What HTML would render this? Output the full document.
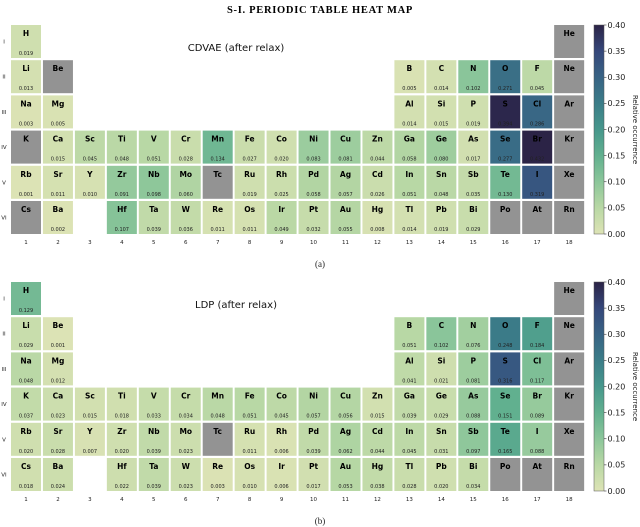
<!DOCTYPE html>
<html><head><meta charset="utf-8">
<style>
html,body{margin:0;padding:0;background:#fff;}
svg{display:block;}
text{font-family:"DejaVu Sans","Liberation Sans",sans-serif;}
</style></head>
<body>
<svg id="chart" width="640" height="527" viewBox="0 0 640 527" xmlns="http://www.w3.org/2000/svg">
<text x="320" y="13" text-anchor="middle" style="font-family:'Liberation Serif',serif;font-weight:bold;font-size:10.5px;letter-spacing:0.7px">S-I.   PERIODIC TABLE HEAT MAP</text>
<defs>
<linearGradient id="cb" x1="0" y1="1" x2="0" y2="0">
<stop offset="0" stop-color="#dde3b5"/><stop offset="0.125" stop-color="#b9d8a5"/><stop offset="0.25" stop-color="#8cc69a"/><stop offset="0.375" stop-color="#62b08f"/><stop offset="0.5" stop-color="#47978c"/><stop offset="0.625" stop-color="#3b7d88"/><stop offset="0.75" stop-color="#386384"/><stop offset="0.875" stop-color="#35477a"/><stop offset="1" stop-color="#2b2346"/>
</linearGradient>
</defs>
</svg>
<script>
const symbols=["H","He","Li","Be","B","C","N","O","F","Ne","Na","Mg","Al","Si","P","S","Cl","Ar",
"K","Ca","Sc","Ti","V","Cr","Mn","Fe","Co","Ni","Cu","Zn","Ga","Ge","As","Se","Br","Kr",
"Rb","Sr","Y","Zr","Nb","Mo","Tc","Ru","Rh","Pd","Ag","Cd","In","Sn","Sb","Te","I","Xe",
"Cs","Ba","Hf","Ta","W","Re","Os","Ir","Pt","Au","Hg","Tl","Pb","Bi","Po","At","Rn"];
const rows=[1,1,2,2,2,2,2,2,2,2,3,3,3,3,3,3,3,3,
4,4,4,4,4,4,4,4,4,4,4,4,4,4,4,4,4,4,
5,5,5,5,5,5,5,5,5,5,5,5,5,5,5,5,5,5,
6,6,6,6,6,6,6,6,6,6,6,6,6,6,6,6,6];
const cols=[1,18,1,2,13,14,15,16,17,18,1,2,13,14,15,16,17,18,
1,2,3,4,5,6,7,8,9,10,11,12,13,14,15,16,17,18,
1,2,3,4,5,6,7,8,9,10,11,12,13,14,15,16,17,18,
1,2,4,5,6,7,8,9,10,11,12,13,14,15,16,17,18];
const valuesCDVAE=[0.019,null,0.013,null,0.005,0.014,0.102,0.271,0.045,null,0.003,0.005,0.014,0.015,0.019,0.394,0.286,null,
null,0.015,0.045,0.048,0.051,0.028,0.134,0.027,0.020,0.083,0.081,0.044,0.058,0.080,0.017,0.277,0.432,null,
0.001,0.011,0.010,0.091,0.098,0.060,null,0.019,0.025,0.058,0.057,0.026,0.051,0.048,0.035,0.130,0.319,null,
null,0.002,0.107,0.039,0.036,0.011,0.011,0.049,0.032,0.055,0.008,0.014,0.019,0.029,null,null,null];
const valuesLDP=[0.129,null,0.029,0.001,0.051,0.102,0.076,0.248,0.184,null,0.048,0.012,0.041,0.021,0.081,0.316,0.117,null,
0.037,0.023,0.015,0.018,0.033,0.034,0.048,0.051,0.045,0.057,0.056,0.015,0.039,0.029,0.088,0.151,0.089,null,
0.020,0.028,0.007,0.020,0.039,0.023,null,0.011,0.006,0.039,0.062,0.044,0.045,0.031,0.097,0.165,0.088,null,
0.018,0.024,0.022,0.039,0.023,0.003,0.010,0.006,0.017,0.053,0.038,0.028,0.020,0.034,null,null,null];
const rowLabels=["I","II","III","IV","V","VI"];
const colLabels=["1","2","3","4","5","6","7","8","9","10","11","12","13","14","15","16","17","18"];
const cbTicks=[0,0.05,0.10,0.15,0.20,0.25,0.30,0.35,0.40];

const NS="http://www.w3.org/2000/svg";
const svg=document.getElementById('chart');
const stops=[[0,[221,227,181]],[0.05,[185,216,165]],[0.1,[140,198,154]],[0.15,[98,176,143]],[0.2,[71,151,140]],[0.25,[59,122,136]],[0.3,[56,96,132]],[0.35,[53,71,122]],[0.4,[43,35,70]]];
function color(v){
  v=Math.max(0,Math.min(0.4,v));
  for(let i=0;i<stops.length-1;i++){
    const a=stops[i],b=stops[i+1];
    if(v<=b[0]){const t=(v-a[0])/(b[0]-a[0]);
      const c=a[1].map((x,k)=>Math.round(x+(b[1][k]-x)*t));
      return `rgb(${c[0]},${c[1]},${c[2]})`;}
  }
  return 'rgb(43,35,70)';
}
function mk(tag,attrs,parent){const e=document.createElementNS(NS,tag);for(const k in attrs)e.setAttribute(k,attrs[k]);(parent||svg).appendChild(e);return e;}
const PX=31.95,PY=35.2,CW=30,CH=33,X0=11;
function xCol(c){return X0+(c-1)*PX;}
function panel(top,values,title,label,name){
  const g=mk('g',{});
  
  
  const yRow=r=>top+(r-1)*PY;
  for(let i=0;i<symbols.length;i++){
    const v=values[i];
    const x=xCol(cols[i]),y=yRow(rows[i]);
    const cell=mk('g',{},g);
    
    
    mk('rect',{x:x,y:y,width:CW,height:CH,fill:v==null?'#939393':color(v)},cell);
    const t=mk('text',{x:x+CW/2,y:y+11,'text-anchor':'middle','font-size':'7.5','font-weight':'bold',fill:'#000'},cell);
    t.textContent=symbols[i];
    if(v!=null){const tv=mk('text',{x:x+CW/2,y:y+30,'text-anchor':'middle','font-size':'5',fill:'#222'},cell);tv.textContent=v.toFixed(3);}
  }
  rowLabels.forEach((l,i)=>{const t=mk('text',{x:4,y:yRow(i+1)+CH/2+2,'text-anchor':'middle','font-size':'5.5',fill:'#222'},g);
    
    
    t.textContent=l;});
  colLabels.forEach((l,i)=>{const t=mk('text',{x:xCol(i+1)+CW/2,y:yRow(6)+CH+10,'text-anchor':'middle','font-size':'5.5',fill:'#222'},g);
    
    
    t.textContent=l;});
  const tt=mk('text',{x:236,y:top+26,'text-anchor':'middle','font-size':'10',fill:'#111'},g);
  
  
  tt.textContent=title;
  const cbTop=top, cbBot=yRow(6)+CH, cbX=594, cbW=10;
  const cb=mk('rect',{x:cbX,y:cbTop,width:cbW,height:cbBot-cbTop,fill:'url(#cb)',stroke:'#555','stroke-width':'0.5'},g);
  
  
  const yCb=v=>cbBot-(v/0.4)*(cbBot-cbTop);
  cbTicks.forEach(v=>{
    mk('line',{x1:cbX+cbW,x2:cbX+cbW+2.5,y1:yCb(v),y2:yCb(v),stroke:'#333','stroke-width':'0.6'},g);
    const t=mk('text',{x:cbX+cbW+3.5,y:yCb(v)+2.8,'font-size':'8',fill:'#222'},g);
    
    
    t.textContent=v.toFixed(2);
  });
  const cy=(cbTop+cbBot)/2;
  const ct=mk('text',{x:633,y:cy,'text-anchor':'middle','font-size':'7',fill:'#222',transform:`rotate(90 633 ${cy})`},g);
  
  
  ct.textContent='Relative occurrence';
  const lb=mk('text',{x:320,y:yRow(6)+CH+33,'text-anchor':'middle','font-size':'9',fill:'#222',style:"font-family:'Liberation Serif',serif"},g);
  
  
  lb.textContent=label;
}
panel(25,valuesCDVAE,'CDVAE (after relax)','(a)','cdvae-panel');
panel(282,valuesLDP,'LDP (after relax)','(b)','ldp-panel');
</script>
</body></html>
